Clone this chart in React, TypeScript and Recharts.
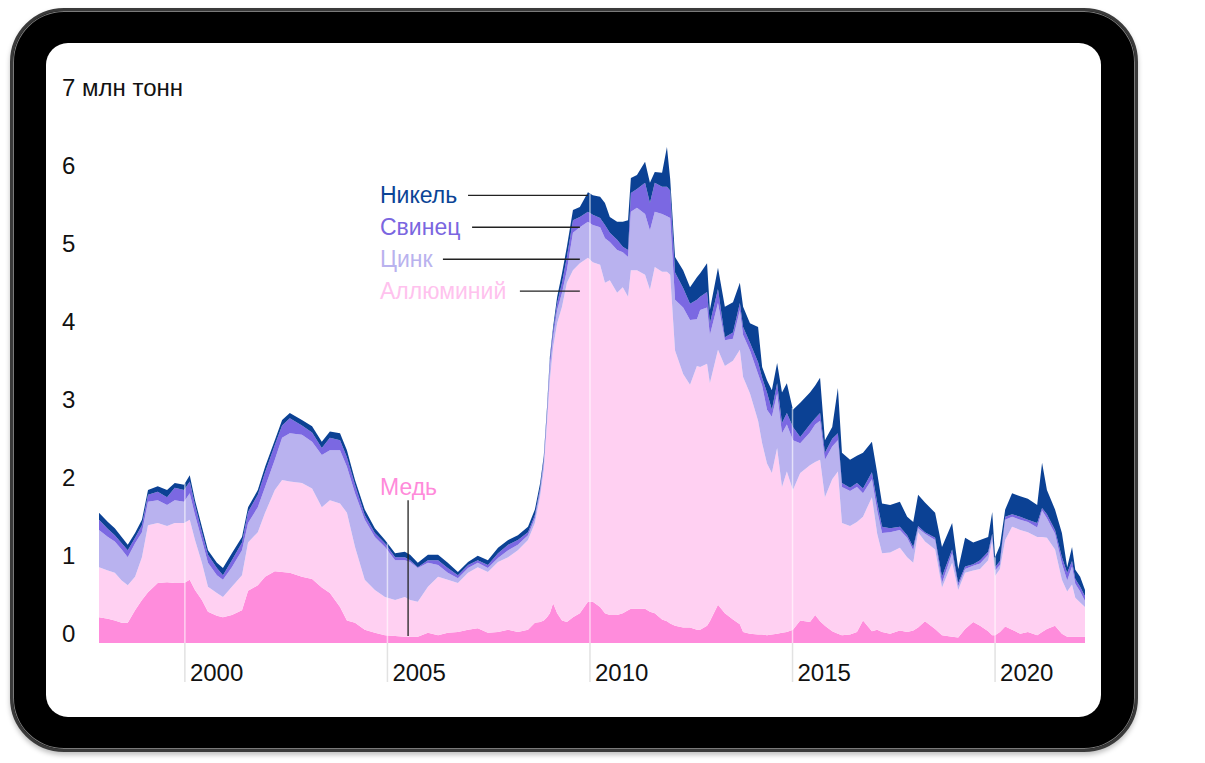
import { AreaChart, Area, XAxis, YAxis, ReferenceLine } from "recharts";

// decimal years of each reading
const dates = [
  1997.88, 1998.1, 1998.27, 1998.44, 1998.59, 1998.77, 1998.94, 1999.09, 1999.33, 1999.56,
  1999.75, 1999.98, 2000.12, 2000.25, 2000.42, 2000.57, 2000.79, 2000.94, 2001.16, 2001.41,
  2001.56, 2001.8, 2001.98, 2002.22, 2002.4, 2002.59, 2002.89, 2003.14, 2003.38, 2003.58,
  2003.83, 2004.0, 2004.2, 2004.44, 2004.69, 2004.94, 2005.19, 2005.43, 2005.56, 2005.75,
  2006.0, 2006.25, 2006.49, 2006.74, 2006.99, 2007.23, 2007.48, 2007.73, 2007.98, 2008.22,
  2008.47, 2008.64, 2008.77, 2008.86, 2008.94, 2009.01, 2009.09, 2009.19, 2009.31, 2009.43,
  2009.58, 2009.75, 2009.95, 2010.07, 2010.25, 2010.37, 2010.49, 2010.67, 2010.81, 2010.94,
  2011.01, 2011.16, 2011.36, 2011.48, 2011.6, 2011.78, 2011.9, 2011.98, 2012.1, 2012.3,
  2012.47, 2012.64, 2012.72, 2012.89, 2012.96, 2013.16, 2013.33, 2013.53, 2013.7, 2013.78,
  2013.95, 2014.15, 2014.25, 2014.37, 2014.49, 2014.62, 2014.74, 2014.86, 2015.01, 2015.19,
  2015.43, 2015.56, 2015.68, 2015.8, 2015.98, 2016.12, 2016.22, 2016.42, 2016.59, 2016.74,
  2016.96, 2017.09, 2017.21, 2017.41, 2017.65, 2017.83, 2017.98, 2018.1, 2018.27, 2018.52,
  2018.69, 2018.94, 2019.09, 2019.26, 2019.46, 2019.63, 2019.83, 2019.93, 2020.0, 2020.12,
  2020.25, 2020.42, 2020.62, 2020.81, 2021.04, 2021.16, 2021.28, 2021.48, 2021.65, 2021.78,
  2021.9, 2021.98, 2022.1, 2022.22,
];

// млн тонн
const copper = [
  0.33, 0.31, 0.29, 0.26, 0.26, 0.42, 0.55, 0.65, 0.77, 0.78,
  0.77, 0.77, 0.81, 0.68, 0.55, 0.4, 0.35, 0.33, 0.36, 0.42,
  0.67, 0.74, 0.85, 0.92, 0.91, 0.9, 0.85, 0.82, 0.71, 0.64,
  0.46, 0.29, 0.26, 0.17, 0.13, 0.1, 0.09, 0.08, 0.08, 0.08,
  0.13, 0.1, 0.13, 0.14, 0.17, 0.19, 0.13, 0.14, 0.17, 0.14,
  0.17, 0.26, 0.27, 0.29, 0.33, 0.38, 0.51, 0.38, 0.29, 0.27,
  0.33, 0.38, 0.53, 0.53, 0.46, 0.38, 0.36, 0.36, 0.38, 0.42,
  0.44, 0.44, 0.44, 0.4, 0.38, 0.3, 0.28, 0.25, 0.22, 0.2,
  0.2, 0.17, 0.17, 0.22, 0.28, 0.49, 0.38, 0.3, 0.24, 0.14,
  0.12, 0.11, 0.11, 0.1, 0.11, 0.12, 0.13, 0.14, 0.17, 0.29,
  0.27, 0.36, 0.28, 0.22, 0.15, 0.12, 0.1, 0.11, 0.14, 0.29,
  0.15, 0.17, 0.14, 0.12, 0.16, 0.14, 0.16, 0.2, 0.28, 0.18,
  0.1, 0.08, 0.07, 0.18, 0.27, 0.22, 0.15, 0.1, 0.1, 0.14,
  0.21, 0.17, 0.12, 0.14, 0.1, 0.14, 0.18, 0.22, 0.12, 0.08,
  0.08, 0.08, 0.08, 0.08,
];

const aluminium = [
  0.64, 0.62, 0.61, 0.54, 0.48, 0.43, 0.55, 0.86, 0.77, 0.72,
  0.77, 0.77, 0.77, 0.64, 0.48, 0.32, 0.29, 0.26, 0.36, 0.45,
  0.62, 0.68, 0.82, 1.04, 1.18, 1.17, 1.2, 1.16, 1.03, 1.19,
  1.33, 1.38, 0.97, 0.64, 0.55, 0.49, 0.46, 0.51, 0.47, 0.45,
  0.59, 0.75, 0.68, 0.63, 0.73, 0.78, 0.78, 0.9, 0.93, 1.05,
  1.15, 1.28, 1.61, 1.93, 2.49, 2.99, 3.28, 3.72, 4.02, 4.35,
  4.45, 4.49, 4.41, 4.35, 4.39, 4.24, 4.29, 4.13, 4.18, 4.02,
  4.34, 4.34, 4.28, 4.13, 4.44, 4.46, 4.48, 4.47, 3.53, 3.25,
  3.11, 3.38, 3.37, 3.36, 3.05, 3.27, 3.17, 3.32, 3.52, 3.27,
  3.08, 2.74, 2.45, 2.2, 2.07, 2.38, 1.87, 2.06, 1.79, 1.89,
  2.01, 1.96, 2.07, 1.65, 1.95, 2.08, 1.44, 1.39, 1.41, 1.33,
  1.72, 1.23, 1.01, 1.04, 1.06, 0.96, 0.87, 1.22, 1.02, 1.02,
  0.61, 0.95, 0.61, 0.72, 0.66, 0.73, 0.91, 1.2, 0.76, 0.81,
  1.11, 1.32, 1.33, 1.28, 1.26, 1.22, 1.17, 0.98, 0.69, 0.58,
  0.67, 0.5, 0.44, 0.38,
];

const zinc = [
  0.48, 0.43, 0.4, 0.4, 0.36, 0.43, 0.32, 0.3, 0.29, 0.27,
  0.29, 0.27, 0.34, 0.32, 0.29, 0.31, 0.23, 0.22, 0.25, 0.32,
  0.25, 0.32, 0.33, 0.39, 0.54, 0.62, 0.62, 0.6, 0.67, 0.64,
  0.68, 0.59, 0.69, 0.77, 0.68, 0.64, 0.51, 0.47, 0.49, 0.43,
  0.31, 0.15, 0.09, 0.06, 0.06, 0.06, 0.05, 0.05, 0.09, 0.07,
  0.06, 0.06, 0.07, 0.09, 0.1, 0.17, 0.13, 0.17, 0.18, 0.16,
  0.48, 0.46, 0.46, 0.48, 0.48, 0.57, 0.49, 0.55, 0.45, 0.51,
  0.75, 0.8, 0.78, 0.76, 0.71, 0.74, 0.71, 0.73, 0.65, 0.85,
  0.83, 0.6, 0.73, 0.72, 0.62, 0.6, 0.33, 0.28, 0.51, 0.54,
  0.55, 0.6, 0.74, 0.69, 0.72, 0.7, 0.69, 0.6, 0.64, 0.38,
  0.42, 0.48, 0.5, 0.48, 0.42, 0.4, 0.46, 0.45, 0.45, 0.3,
  0.23, 0.3, 0.26, 0.26, 0.23, 0.25, 0.16, 0.05, 0.1, 0.12,
  0.06, 0.12, 0.05, 0.05, 0.06, 0.07, 0.07, 0.07, 0.07, 0.05,
  0.26, 0.13, 0.13, 0.13, 0.12, 0.34, 0.25, 0.2, 0.21, 0.14,
  0.23, 0.18, 0.14, 0.08,
];

const lead = [
  0.13, 0.1, 0.08, 0.08, 0.09, 0.07, 0.09, 0.09, 0.11, 0.1,
  0.16, 0.15, 0.15, 0.13, 0.1, 0.1, 0.09, 0.06, 0.09, 0.1,
  0.14, 0.16, 0.19, 0.19, 0.16, 0.19, 0.12, 0.12, 0.09, 0.16,
  0.13, 0.12, 0.11, 0.06, 0.05, 0.05, 0.04, 0.04, 0.02, 0.01,
  0.03, 0.06, 0.06, 0.04, 0.04, 0.03, 0.04, 0.06, 0.07, 0.06,
  0.04, 0.04, 0.04, 0.05, 0.06, 0.09, 0.08, 0.09, 0.13, 0.17,
  0.16, 0.13, 0.13, 0.13, 0.12, 0.17, 0.12, 0.13, 0.07, 0.09,
  0.24, 0.24, 0.4, 0.35, 0.37, 0.35, 0.38, 0.35, 0.35, 0.25,
  0.21, 0.25, 0.17, 0.2, 0.15, 0.18, 0.04, 0.08, 0.09, 0.1,
  0.1, 0.15, 0.1, 0.22, 0.09, 0.13, 0.13, 0.15, 0.17, 0.08,
  0.1, 0.08, 0.1, 0.09, 0.1, 0.09, 0.05, 0.04, 0.05, 0.06,
  0.09, 0.1, 0.08, 0.05, 0.04, 0.03, 0.04, 0.03, 0.02, 0.03,
  0.08, 0.05, 0.04, 0.03, 0.02, 0.04, 0.04, 0.03, 0.04, 0.05,
  0.04, 0.03, 0.04, 0.03, 0.06, 0.03, 0.05, 0.05, 0.08, 0.1,
  0.07, 0.06, 0.06, 0.06,
];

const nickel = [
  0.09, 0.09, 0.09, 0.08, 0.07, 0.06, 0.07, 0.06, 0.07, 0.09,
  0.06, 0.07, 0.08, 0.06, 0.07, 0.06, 0.07, 0.09, 0.09, 0.07,
  0.06, 0.06, 0.07, 0.06, 0.07, 0.07, 0.07, 0.08, 0.08, 0.08,
  0.09, 0.09, 0.06, 0.07, 0.06, 0.04, 0.05, 0.07, 0.07, 0.06,
  0.07, 0.07, 0.07, 0.04, 0.04, 0.06, 0.06, 0.07, 0.06, 0.06,
  0.07, 0.07, 0.06, 0.04, 0.05, 0.04, 0.05, 0.08, 0.12, 0.13,
  0.13, 0.13, 0.25, 0.25, 0.27, 0.28, 0.2, 0.23, 0.32, 0.38,
  0.19, 0.18, 0.27, 0.26, 0.14, 0.18, 0.51, 0.15, 0.2, 0.23,
  0.21, 0.29, 0.3, 0.37, 0.17, 0.27, 0.39, 0.39, 0.26, 0.26,
  0.25, 0.45, 0.14, 0.16, 0.25, 0.26, 0.39, 0.38, 0.22, 0.44,
  0.41, 0.42, 0.45, 0.16, 0.15, 0.58, 0.39, 0.36, 0.35, 0.46,
  0.39, 0.38, 0.3, 0.3, 0.32, 0.24, 0.32, 0.4, 0.38, 0.32,
  0.38, 0.34, 0.18, 0.37, 0.28, 0.26, 0.19, 0.28, 0.13, 0.2,
  0.09, 0.27, 0.26, 0.27, 0.23, 0.58, 0.31, 0.26, 0.31, 0.07,
  0.18, 0.12, 0.13, 0.08,
];

const yearTicks = [2000, 2005, 2010, 2015, 2020];
const valueTicks = [0, 1, 2, 3, 4, 5, 6, 7];

const FONT = "'Liberation Sans', Arial, sans-serif";

const COLORS = {
  copper: "#ff8cdc",
  aluminium: "#ffd0f2",
  zinc: "#b9b2ef",
  lead: "#7b68e2",
  nickel: "#0b4194",
};

const data = dates.map((t, i) => ({
  t,
  copper: copper[i],
  aluminium: aluminium[i],
  zinc: zinc[i],
  lead: lead[i],
  nickel: nickel[i],
}));

const totalAt = (i: number) => copper[i] + aluminium[i] + zinc[i] + lead[i] + nickel[i];

// stack height at a given year (so the year line stops at the top of the areas)
function stackHeight(year: number): number {
  for (let i = 1; i < dates.length; i++) {
    if (dates[i] >= year) {
      const f = (year - dates[i - 1]) / (dates[i] - dates[i - 1]);
      return totalAt(i - 1) + (totalAt(i) - totalAt(i - 1)) * f;
    }
  }
  return 0;
}

function YearTick({ x, y, payload }: any) {
  return (
    <g>
      <line x1={x} x2={x} y1={y} y2={y + 39} stroke="#e2e2e2" strokeWidth={1.5} />
      <text x={x + 5} y={y + 38} fontSize={24} fill="#111" fontFamily={FONT}>
        {payload.value}
      </text>
    </g>
  );
}

function ValueTick({ y, payload }: any) {
  return (
    <text x={62} y={y - 1} fontSize={24} fill="#111" fontFamily={FONT}>
      {payload.value === 7 ? "7 млн тонн" : payload.value}
    </text>
  );
}

const labels = [
  { text: "Никель", color: "#0b4496", y: 203 },
  { text: "Свинец", color: "#7a66e0", y: 235 },
  { text: "Цинк", color: "#b9b2ee", y: 267 },
  { text: "Аллюминий", color: "#ffc2ee", y: 299 },
  { text: "Медь", color: "#ff8ada", y: 495 },
];

export default function App() {
  return (
    <div style={{ position: "absolute", left: 0, top: 0, width: 1205, height: 763, background: "#fff" }}>
      {/* tablet body */}
      <div
        style={{
          position: "absolute",
          left: 10,
          top: 8,
          width: 1128,
          height: 744,
          boxSizing: "border-box",
          borderRadius: 54,
          background: "#000",
          border: "3px solid #3a3a3a",
          boxShadow: "inset 0 0 0 1px #7a7a7a, 0 3px 5px rgba(0,0,0,0.25)",
        }}
      />
      {/* screen */}
      <div
        style={{
          position: "absolute",
          left: 46,
          top: 43,
          width: 1055,
          height: 674,
          borderRadius: 22,
          background: "#fff",
        }}
      />
      <div style={{ position: "absolute", left: 0, top: 0 }}>
        <AreaChart
          width={1205}
          height={763}
          data={data}
          margin={{ top: 97, right: 120, bottom: 80, left: 62 }}
        >
          <XAxis
            dataKey="t"
            type="number"
            domain={[1997.88, 2022.22]}
            ticks={yearTicks}
            tick={<YearTick />}
            tickSize={0}
            tickMargin={0}
            axisLine={false}
            tickLine={false}
            height={40}
            interval={0}
          />
          <YAxis
            type="number"
            domain={[0, 7]}
            ticks={valueTicks}
            tick={<ValueTick />}
            tickSize={0}
            tickMargin={0}
            axisLine={false}
            tickLine={false}
            width={37}
            interval={0}
          />
          <Area type="linear" dataKey="copper" stackId="m" fill={COLORS.copper} fillOpacity={1} stroke="none" isAnimationActive={false} />
          <Area type="linear" dataKey="aluminium" stackId="m" fill={COLORS.aluminium} fillOpacity={1} stroke="none" isAnimationActive={false} />
          <Area type="linear" dataKey="zinc" stackId="m" fill={COLORS.zinc} fillOpacity={1} stroke="none" isAnimationActive={false} />
          <Area type="linear" dataKey="lead" stackId="m" fill={COLORS.lead} fillOpacity={1} stroke="none" isAnimationActive={false} />
          <Area type="linear" dataKey="nickel" stackId="m" fill={COLORS.nickel} fillOpacity={1} stroke="none" isAnimationActive={false} />

          {yearTicks.map((yr) => (
            <ReferenceLine
              key={yr}
              segment={[{ x: yr, y: 0 }, { x: yr, y: stackHeight(yr) }]}
              stroke="#ffffff"
              strokeOpacity={0.6}
              strokeWidth={1.5}
            />
          ))}

          {/* leader lines for the labels */}
          <ReferenceLine segment={[{ x: 2006.99, y: 5.74 }, { x: 2009.95, y: 5.74 }]} stroke="#222" strokeWidth={1.3} />
          <ReferenceLine segment={[{ x: 2007.09, y: 5.33 }, { x: 2009.75, y: 5.33 }]} stroke="#222" strokeWidth={1.3} />
          <ReferenceLine segment={[{ x: 2006.37, y: 4.92 }, { x: 2009.75, y: 4.92 }]} stroke="#222" strokeWidth={1.3} />
          <ReferenceLine segment={[{ x: 2008.27, y: 4.51 }, { x: 2009.75, y: 4.51 }]} stroke="#222" strokeWidth={1.3} />
          <ReferenceLine segment={[{ x: 2005.51, y: 1.83 }, { x: 2005.51, y: 0.09 }]} stroke="#222" strokeWidth={1.3} />
        </AreaChart>
      </div>
      <svg width={1205} height={763} style={{ position: "absolute", left: 0, top: 0, pointerEvents: "none" }}>
        {labels.map((l) => (
          <text key={l.text} x={380} y={l.y} fontSize={23} fill={l.color} fontFamily={FONT}>
            {l.text}
          </text>
        ))}
      </svg>
    </div>
  );
}
